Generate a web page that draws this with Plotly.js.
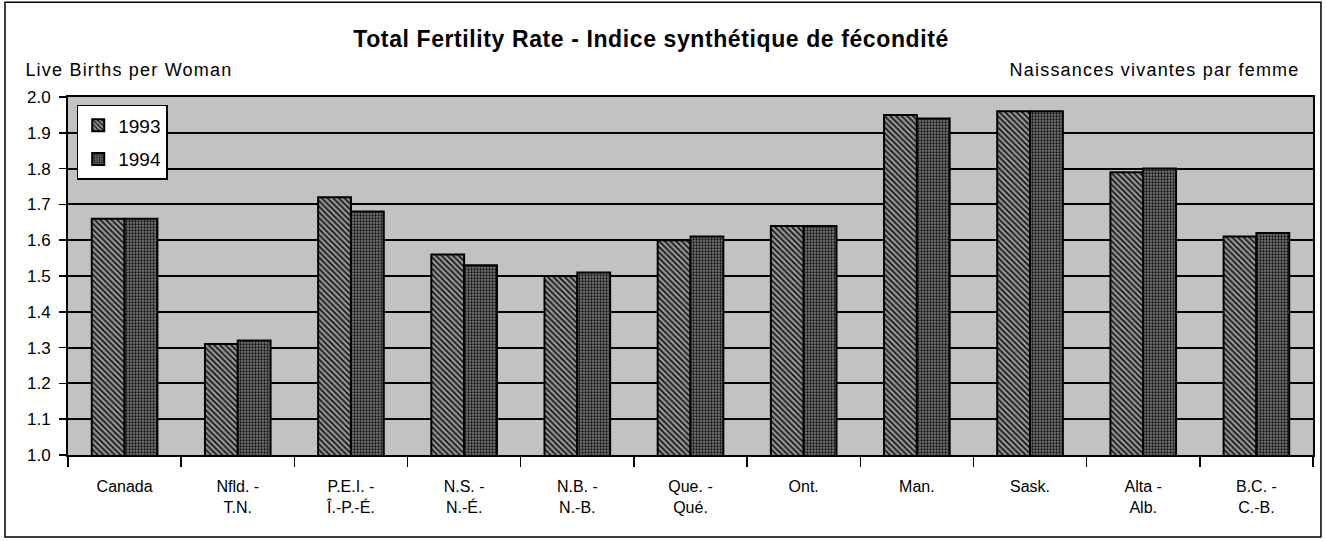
<!DOCTYPE html>
<html>
<head>
<meta charset="utf-8">
<script src="https://cdn.plot.ly/plotly-3.0.1.min.js"></script>
<style>
html,body{margin:0;padding:0;background:#fff;}
#chart{width:1326px;height:541px;}
#chart .gtitle{letter-spacing:0.6px;}
#chart .annotation-text{letter-spacing:1.2px;}
</style>
</head>
<body>
<div id="chart"></div>
<script>
const categories = ["Canada", "Nfld. -<br>T.N.", "P.E.I. -<br>Î.-P.-É.", "N.S. -<br>N.-É.", "N.B. -<br>N.-B.", "Que. -<br>Qué.", "Ont.", "Man.", "Sask.", "Alta -<br>Alb.", "B.C. -<br>C.-B."];
const values1993 = [1.66, 1.31, 1.72, 1.56, 1.50, 1.60, 1.64, 1.95, 1.96, 1.79, 1.61];
const values1994 = [1.66, 1.32, 1.68, 1.53, 1.51, 1.61, 1.64, 1.94, 1.96, 1.80, 1.62];
const yTickVals = [1.0, 1.1, 1.2, 1.3, 1.4, 1.5, 1.6, 1.7, 1.8, 1.9, 2.0];

const font = "Liberation Sans, Arial, sans-serif";

const traces = [
  {
    type: "bar", name: "1993", x: categories, y: values1993, legendgroup: "a",
    marker: {color: "#777", line: {color: "#000", width: 2},
      pattern: {shape: "\\", fgcolor: "#111", bgcolor: "#969696", size: 4, solidity: 0.4}}
  },
  {
    type: "bar", name: "1994", x: categories, y: values1994, legendgroup: "b",
    marker: {color: "#555", line: {color: "#000", width: 2},
      pattern: {shape: ".", fgcolor: "#111", bgcolor: "#787878", size: 3, solidity: 0.45}}
  }
];

const layout = {
  width: 1326, height: 541,
  margin: {l: 68, r: 13, t: 97, b: 86},
  paper_bgcolor: "#fff",
  plot_bgcolor: "#c2c2c2",
  barmode: "group",
  bargap: 0.42,
  bargroupgap: 0,
  font: {family: font, size: 16, color: "#000"},
  title: {text: "<b>Total Fertility Rate - Indice synthétique de fécondité</b>",
    font: {family: font, size: 23, color: "#000"},
    xref: "container", x: 0.491, xanchor: "center", yref: "container", y: 0.928, yanchor: "middle"},
  showlegend: true,
  legend: {x: 0.007, y: 0.978, xanchor: "left", yanchor: "top",
    bgcolor: "#fff", bordercolor: "#000", borderwidth: 1.5, traceorder: "grouped",
    itemwidth: 30,
    font: {family: font, size: 19, color: "#000"}, tracegroupgap: 6},
  xaxis: {
    type: "category", showline: true, linecolor: "#000", linewidth: 2, mirror: true,
    ticks: "outside", tickson: "boundaries", ticklen: 10, tickcolor: "#000", tickwidth: 1.5,
    showgrid: false, ticklabelstandoff: 16,
    tickfont: {family: font, size: 16, color: "#000"}
  },
  yaxis: {
    range: [1.0, 2.0], tickvals: yTickVals, ticktext: yTickVals.map(v => v.toFixed(1)),
    showline: true, linecolor: "#000", linewidth: 2, mirror: true,
    ticks: "outside", ticklen: 7, tickcolor: "#000", tickwidth: 1.5,
    showgrid: true, gridcolor: "#000", gridwidth: 2, zeroline: false,
    ticklabelstandoff: 5,
    tickfont: {family: font, size: 17, color: "#000"}
  },
  annotations: [
    {text: "Live Births per Woman", xref: "paper", yref: "paper", x: -0.0257, y: 1.075,
      xanchor: "left", yanchor: "middle", showarrow: false, font: {family: font, size: 18, color: "#000"}},
    {text: "Naissances vivantes par femme", xref: "paper", yref: "paper", x: 0.9768, y: 1.075,
      xanchor: "right", yanchor: "middle", showarrow: false, font: {family: font, size: 18, color: "#000"}}
  ],
  shapes: [
    {type: "rect", xref: "paper", yref: "paper", x0: -0.0506, x1: 1.0064, y0: -0.229, y1: 1.265,
      line: {color: "#000", width: 1.5}, fillcolor: "rgba(0,0,0,0)", layer: "below"}
  ]
};

Plotly.newPlot("chart", traces, layout, {displayModeBar: false, staticPlot: true});
</script>
</body>
</html>
